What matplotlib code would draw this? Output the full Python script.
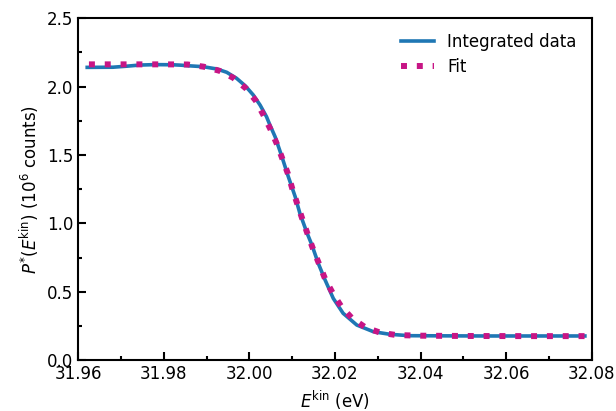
import matplotlib
matplotlib.use('Agg')
import matplotlib.pyplot as plt
from matplotlib.ticker import MultipleLocator

# integrated data (eV, 10^6 counts)
data_x = [31.9621, 31.9681, 31.9715, 31.9744, 31.9780, 31.9820, 31.9840,
          31.9861, 31.9892, 31.9924, 31.9947, 31.9970, 31.9990, 32.0009,
          32.0025, 32.0040, 32.0048, 32.0060, 32.0076, 32.0091, 32.0107,
          32.0118, 32.0134, 32.0146, 32.0161, 32.0177, 32.0196, 32.0219,
          32.0251, 32.0290, 32.0329, 32.0375, 32.0450, 32.0550, 32.0650,
          32.0784]
data_y = [2.141, 2.142, 2.150, 2.158, 2.161, 2.160, 2.157,
          2.152, 2.146, 2.129, 2.105, 2.061, 2.007, 1.939,
          1.865, 1.780, 1.719, 1.634, 1.487, 1.341, 1.195,
          1.073, 0.935, 0.842, 0.707, 0.585, 0.451, 0.342,
          0.256, 0.207, 0.188, 0.178, 0.177, 0.176, 0.176,
          0.176]

# fit curve
fit_x = [31.9625, 31.9700, 31.9800, 31.9856, 31.9893, 31.9930, 31.9962,
         31.9992, 32.0015, 32.0032, 32.0049, 32.0064, 32.0077, 32.0090,
         32.0100, 32.0112, 32.0124, 32.0136, 32.0149, 32.0163, 32.0177,
         32.0195, 32.0215, 32.0240, 32.0271, 32.0306, 32.0343, 32.0400,
         32.0500, 32.0650, 32.0784]
fit_y = [2.163, 2.163, 2.163, 2.162, 2.146, 2.116, 2.065,
         1.987, 1.897, 1.797, 1.690, 1.582, 1.473, 1.363,
         1.256, 1.141, 1.029, 0.922, 0.810, 0.702, 0.593,
         0.488, 0.390, 0.305, 0.239, 0.200, 0.183, 0.178,
         0.176, 0.175, 0.175]

plt.rcParams['font.size'] = 12
plt.rcParams['axes.linewidth'] = 1.5

fig = plt.figure(figsize=(6.16, 4.11), dpi=100)
ax = fig.add_axes([0.127, 0.124, 0.8336, 0.8315])

ax.plot(data_x, data_y, color='#1f77b4', lw=2.6, label='Integrated data')
ax.plot(fit_x, fit_y, color='#c71585', lw=4.3, ls=':', label='Fit')

ax.set_xlim(31.96, 32.08)
ax.set_ylim(0, 2.5)
ax.xaxis.set_major_locator(MultipleLocator(0.02))
ax.xaxis.set_minor_locator(MultipleLocator(0.01))
ax.yaxis.set_major_locator(MultipleLocator(0.5))
ax.yaxis.set_minor_locator(MultipleLocator(0.25))
ax.tick_params(which='both', direction='in', width=1.5)
ax.tick_params(which='major', length=5.5)
ax.tick_params(which='minor', length=3)

ax.set_xlabel(r'$E^{\mathrm{kin}}$ (eV)')
ax.set_ylabel(r'$P^{*}(E^{\mathrm{kin}})$ ($10^6$ counts)')
ax.legend(loc='upper right', frameon=False, labelspacing=0.38)

fig.savefig('out.png', dpi=100)
